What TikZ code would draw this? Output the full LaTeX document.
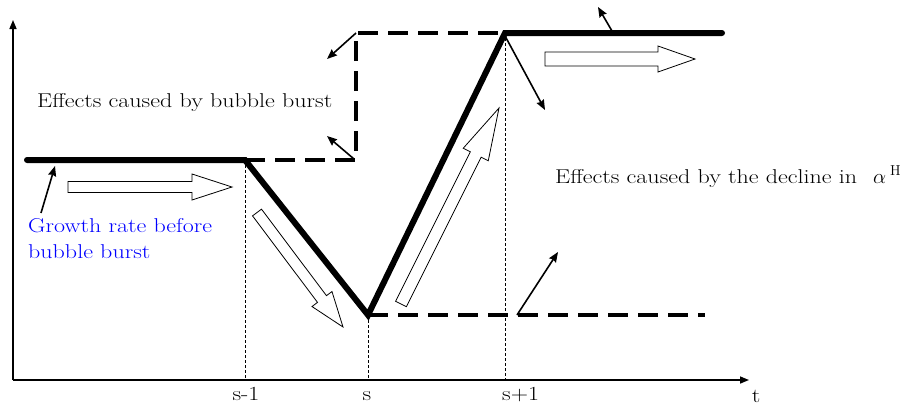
\documentclass[tikz,border=0pt]{standalone}
\usepackage{graphicx}
\usetikzlibrary{arrows.meta,calc}
\newcommand\blockarr[5]{% #1 tail, #2 tip, #3 shaft half width, #4 head half width, #5 head length
  \coordinate (ba-c) at ($(#2)!#5!(#1)$);
  \draw[blockstyle] ($(#1)!#3!90:(#2)$) -- ($(ba-c)!#3!90:(#2)$) -- ($(ba-c)!#4!90:(#2)$) -- (#2)
    -- ($(ba-c)!#4!-90:(#2)$) -- ($(ba-c)!#3!-90:(#2)$) -- ($(#1)!#3!-90:(#2)$) -- cycle;
}
\newcommand\widetext[1]{\scalebox{1.2}[1]{#1}}
\begin{document}
\begin{tikzpicture}[x=1pt,y=-1pt,
  thickline/.style={line width=6pt, line cap=round, line join=miter},
  dashline/.style={line width=4.5pt, dash pattern=on 20pt off 10pt},
  guide/.style={line width=0.9pt, dash pattern=on 3pt off 2pt},
  axisline/.style={line width=1.5pt, -{Triangle[length=9pt,width=7pt]}},
  pointer/.style={line width=1.6pt, -{Stealth[length=10pt,width=8pt,inset=1pt]}},
  lbl/.style={font=\fontsize{20}{24}\selectfont, inner sep=0pt},
  blockstyle/.style={draw, line width=0.8pt, fill=white, line join=miter}
]
\useasboundingbox (0,0) rectangle (915,408);
% key points
\coordinate (O) at (13,380);
\coordinate (Ytop) at (13,20);
\coordinate (Xend) at (749,380);
\coordinate (P0) at (27,160);
\coordinate (Q1) at (245,160);
\coordinate (V) at (368,315);
\coordinate (T) at (505,33);
\coordinate (E) at (722,33);
\coordinate (D1) at (356,160);
\coordinate (D2) at (356,33);
\coordinate (L2) at (705,315);
\coordinate (Q1b) at (245,380);
\coordinate (Vb) at (368,380);
\coordinate (Tb) at (505,380);
% axes
\draw[axisline] (O) -- (Ytop);
\draw[axisline] (O) -- (Xend);
% guides
\draw[guide] (Q1) -- (Q1b);
\draw[guide] (V) -- (Vb);
\draw[guide] (T) -- (Tb);
% dashed alternative paths
\draw[dashline] (Q1) -- (D1) -- (D2) -- (T);
\draw[dashline] (V) -- (L2);
% thick path
\draw[thickline] (P0) -- (Q1) -- (V) -- (T) -- (E);
% block arrows
\coordinate (b1a) at (68,187);  \coordinate (b1b) at (232,187);
\coordinate (b2a) at (257,212.5); \coordinate (b2b) at (343,327);
\coordinate (b3a) at (401,304); \coordinate (b3b) at (499,108);
\coordinate (b4a) at (545,59);  \coordinate (b4b) at (695,59);
\blockarr{b1a}{b1b}{5.5pt}{13pt}{40pt}
\blockarr{b2a}{b2b}{5.6pt}{12.5pt}{35pt}
\blockarr{b3a}{b3b}{6pt}{14pt}{52pt}
\blockarr{b4a}{b4b}{7pt}{13pt}{37pt}
% pointers
\coordinate (p1a) at (356,33);  \coordinate (p1b) at (327,59);
\coordinate (p2a) at (354,159); \coordinate (p2b) at (327,136);
\coordinate (p3a) at (504,34);  \coordinate (p3b) at (545,110);
\coordinate (p4a) at (612,31);  \coordinate (p4b) at (598,7);
\coordinate (p5a) at (517,315); \coordinate (p5b) at (558,252);
\coordinate (p6a) at (41,213);  \coordinate (p6b) at (55,166);
\draw[pointer] (p1a) -- (p1b);
\draw[pointer] (p2a) -- (p2b);
\draw[pointer] (p3a) -- (p3b);
\draw[pointer] (p4a) -- (p4b);
\draw[pointer] (p5a) -- (p5b);
\draw[pointer] (p6a) -- (p6b);
% labels
\node[lbl, anchor=base west] (burst) at (37,107) {\widetext{Effects caused by bubble burst}};
\node[lbl, anchor=base west] (decline) at (555,183) {\widetext{Effects caused by the decline in}\hspace{16pt}$\alpha^{\hspace{4pt}\mathrm{H}}$};
\node[lbl, anchor=base west, text=blue] (growth1) at (28,232) {\widetext{Growth rate before}};
\node[lbl, anchor=base west, text=blue] (growth2) at (28,258) {\widetext{bubble burst}};
\node[lbl, anchor=base] (ls1) at (246,400) {\widetext{s-1}};
\node[lbl, anchor=base] (ls) at (367,400) {\widetext{s}};
\node[lbl, anchor=base west] (ls2) at (502,400) {\widetext{s+1}};
\node[lbl, anchor=base] (lt) at (756,402) {\widetext{t}};
\end{tikzpicture}
\end{document}
